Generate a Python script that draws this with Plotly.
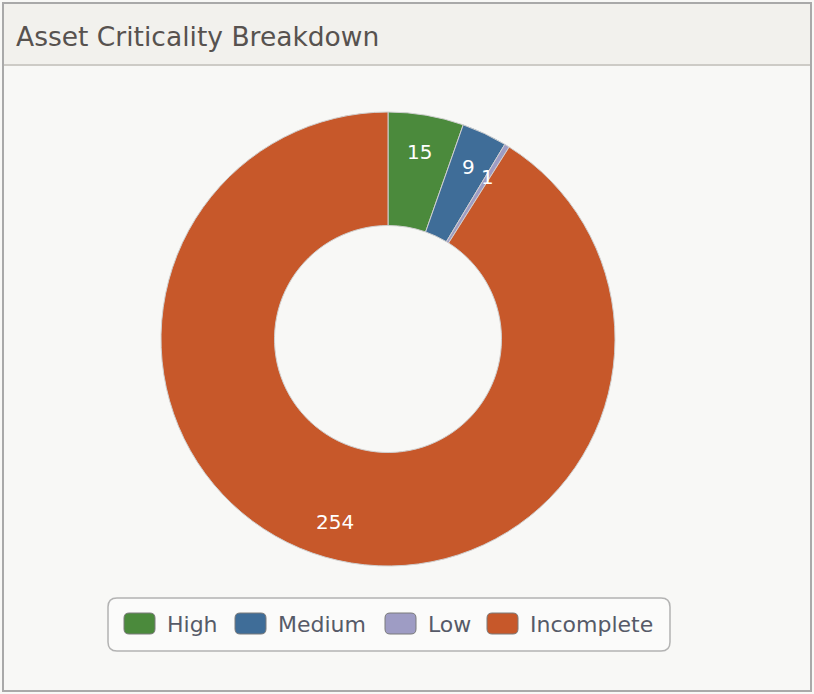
import math
import plotly.graph_objects as go

# Chart data
labels = ["High", "Medium", "Low", "Incomplete"]
counts = [15, 9, 1, 254]
colors = ["#4b8a3c", "#3f6d98", "#9e9cc4", "#c7582a"]

W, H = 814, 694
CX, CY, R_OUT, HOLE = 388, 339, 227, 0.5
FONT = "DejaVu Sans"


def px(x):
    return x / W


def py(y):
    return 1 - y / H


fig = go.Figure()

fig.add_trace(go.Pie(
    labels=labels,
    values=counts,
    sort=False,
    direction="clockwise",
    rotation=0,
    hole=HOLE,
    marker=dict(colors=colors, line=dict(color="#d0d0d0", width=1)),
    textinfo="none",
    domain=dict(x=[px(CX - R_OUT), px(CX + R_OUT)], y=[py(CY + R_OUT), py(CY - R_OUT)]),
    showlegend=False,
    hoverinfo="label+value",
))

# value labels sit near the outer part of each slice, at the slice's middle angle
total = sum(counts)
start = 0
for lab, v in zip(labels, counts):
    ang = math.radians((start + v / 2) / total * 360)
    rr = 190
    fig.add_annotation(x=px(CX + rr * math.sin(ang)), y=py(CY - rr * math.cos(ang)),
                       xref="paper", yref="paper", text=str(v), showarrow=False,
                       xanchor="center", yanchor="middle",
                       font=dict(family=FONT, size=20, color="white"))
    start += v

shapes = [
    # panel frame and header band
    dict(type="rect", x0=px(3), x1=px(811), y0=py(691), y1=py(3),
         line=dict(color="#a9a9a9", width=2), fillcolor="rgba(0,0,0,0)"),
    dict(type="rect", x0=px(4), x1=px(810), y0=py(65), y1=py(4),
         line=dict(width=0), fillcolor="#f2f1ed", layer="below"),
    dict(type="line", x0=px(4), x1=px(810), y0=py(65), y1=py(65),
         line=dict(color="#cdcbc6", width=2)),
]


def rounded(x0, y0, x1, y1, r):
    return (f"M {px(x0 + r)},{py(y0)} L {px(x1 - r)},{py(y0)} "
            f"Q {px(x1)},{py(y0)} {px(x1)},{py(y0 + r)} L {px(x1)},{py(y1 - r)} "
            f"Q {px(x1)},{py(y1)} {px(x1 - r)},{py(y1)} L {px(x0 + r)},{py(y1)} "
            f"Q {px(x0)},{py(y1)} {px(x0)},{py(y1 - r)} L {px(x0)},{py(y0 + r)} "
            f"Q {px(x0)},{py(y0)} {px(x0 + r)},{py(y0)} Z")


# legend box with rounded corners
shapes.append(dict(type="path", path=rounded(108, 598, 670, 651, 9),
                   line=dict(color="#b3b3b3", width=1.5), fillcolor="#fbfbfa"))

item_x = [124, 235, 385, 487]
sw, sy0, sy1 = 31, 613, 634
for lab, col, x0 in zip(labels, colors, item_x):
    shapes.append(dict(type="path", path=rounded(x0, sy0, x0 + sw, sy1, 5),
                       line=dict(color="#7a7a7a", width=1), fillcolor=col))
    fig.add_annotation(x=px(x0 + sw + 10), y=py(624), xref="paper", yref="paper", text=lab,
                       showarrow=False, xanchor="left", yanchor="middle",
                       font=dict(family=FONT, size=22, color="#565a68"))

for s in shapes:
    s.setdefault("xref", "paper")
    s.setdefault("yref", "paper")
fig.update_layout(shapes=shapes)

fig.update_layout(
    width=W, height=H,
    margin=dict(l=0, r=0, t=0, b=0),
    paper_bgcolor="#f8f8f6",
    plot_bgcolor="#f8f8f6",
    title=dict(text="Asset Criticality Breakdown", x=px(16), xanchor="left", y=py(37), yanchor="middle",
               font=dict(family=FONT, size=26.5, color="#57524f")),
    showlegend=False,
)

fig.write_html("out.html", config={"displayModeBar": False},
               post_script="document.body.style.margin='0';")
